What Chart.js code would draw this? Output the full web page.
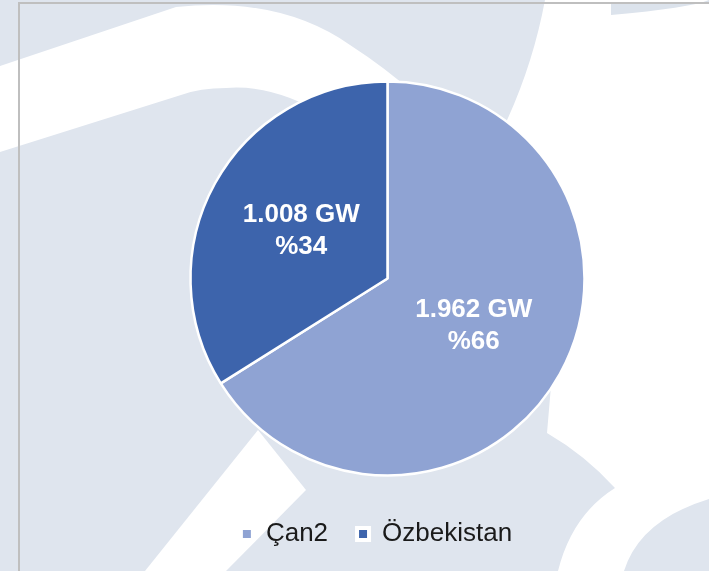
<!DOCTYPE html>
<html lang="tr">

<head>
   <meta charset="UTF-8">
   <title>Çan2 / Özbekistan</title>
   <script src="https://cdn.jsdelivr.net/npm/chart.js@4.4.1/dist/chart.umd.min.js"></script>
   <style>
      html, body { margin: 0; padding: 0; overflow: hidden; background: #dfe5ee; }
      .bg { position: absolute; left: 0; top: 0; }
      .frame {
         position: absolute; left: 18px; top: 2px; width: 700px; height: 580px;
         border-left: 2px solid #bfbfbf; border-top: 2px solid #bfbfbf;
      }
      .chart-container { position: absolute; left: 0; top: 0; width: 709px; height: 571px; }
   </style>
</head>

<body>
   <!-- watermark shapes behind the chart -->
   <svg class="bg" width="709" height="571" viewBox="0 0 709 571">
      <rect width="709" height="571" fill="#dfe5ee" />
      <path d="M0,66 L176,7 Q280,-4 350,45 Q420,90 480,160 L400,230 L330,118 Q275,84 226,88 Q200,88 181,95 L0,152 Z" fill="#ffffff" />
      <path d="M545,0 L709,0 L709,499 Q640,520 624,571 L558,571 Q572,515 615,488 Q585,455 547,433 L560,280 L500,135 Q532,70 545,0 Z" fill="#ffffff" />
      <path d="M611,3 L709,3 L709,0 Q690,8 611,15 Z" fill="#dce3ec" />
      <path d="M258,430 L145,571 L226,571 L306,490 Z" fill="#ffffff" />
   </svg>
   <div class="frame"></div>
   <div class="chart-container">
      <canvas id="myChart"></canvas>
   </div>
   <script>
      const labels = ['Çan2', 'Özbekistan'];
      const capacityGW = [1.962, 1.008];
      const colors = ['#8fa3d3', '#3d64ac'];

      const total = capacityGW.reduce((s, v) => s + v, 0);

      // white value + percent labels inside each slice
      const sliceLabels = {
         id: 'sliceLabels',
         afterDatasetsDraw(chart) {
            const ctx = chart.ctx;
            const meta = chart.getDatasetMeta(0);
            ctx.save();
            ctx.fillStyle = '#ffffff';
            ctx.font = 'bold 26px "Liberation Sans", Arial, sans-serif';
            ctx.textAlign = 'center';
            ctx.textBaseline = 'middle';
            meta.data.forEach((arc, i) => {
               const p = arc.tooltipPosition();
               const v = capacityGW[i];
               ctx.fillText(v.toFixed(3) + ' GW', p.x, p.y - 16);
               ctx.fillText('%' + Math.round(v / total * 100), p.x, p.y + 16);
            });
            ctx.restore();
         }
      };

      const config = {
         type: 'pie',
         data: {
            labels: labels,
            datasets: [{
               data: capacityGW,
               backgroundColor: colors,
               borderColor: '#ffffff',
               borderWidth: 2.5,
               radius: 197
            }]
         },
         options: {
            responsive: true,
            maintainAspectRatio: false,
            animation: false,
            layout: { padding: { left: 44, top: 65, bottom: 14 } },
            plugins: {
               tooltip: { enabled: false },
               // blank title on the left only nudges the pie right of the legend
               title: {
                  display: true,
                  text: ' ',
                  position: 'left',
                  fullSize: false,
                  padding: 5,
                  font: { size: 10 }
               },
               legend: {
                  position: 'bottom',
                  labels: {
                     color: '#1a1a1a',
                     boxWidth: 12,
                     boxHeight: 12,
                     padding: 29,
                     font: { family: '"Liberation Sans", Arial, sans-serif', size: 26 },
                     generateLabels(chart) {
                        return labels.map((l, i) => ({
                           text: l,
                           fillStyle: colors[i],
                           strokeStyle: '#ffffff',
                           lineWidth: 4,
                           fontColor: '#1a1a1a',
                           index: i,
                           hidden: false
                        }));
                     }
                  }
               }
            }
         },
         plugins: [sliceLabels]
      };

      const ctx = document.getElementById('myChart').getContext('2d');
      const chart = new Chart(ctx, config);
   </script>
</body>

</html>
